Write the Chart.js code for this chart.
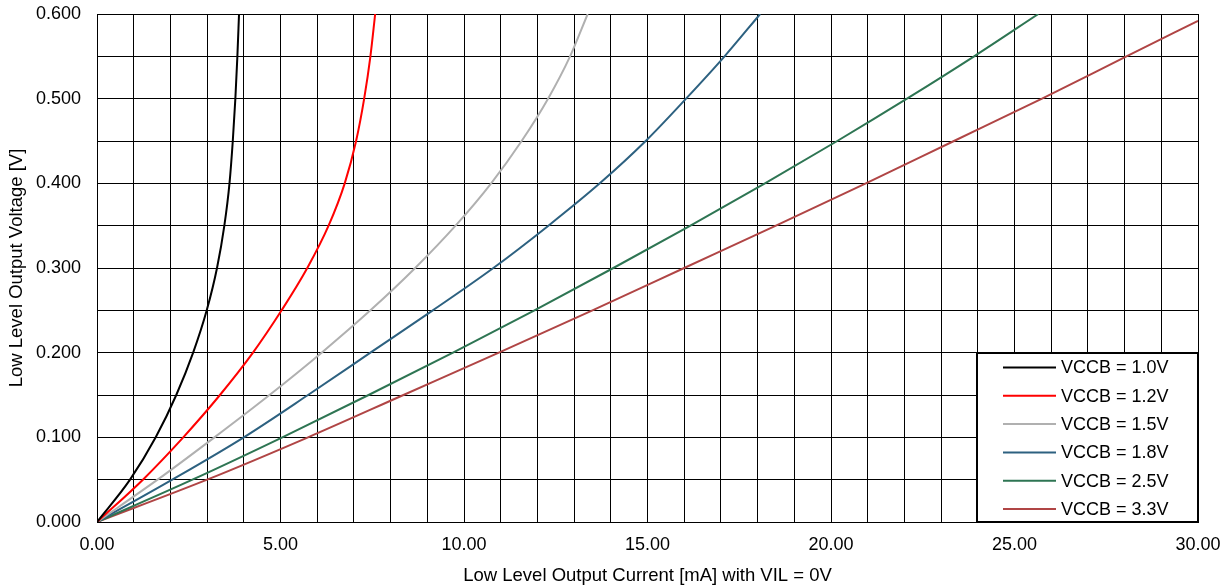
<!DOCTYPE html>
<html>
<head>
<meta charset="utf-8">
<script src="https://cdn.jsdelivr.net/npm/chart.js@4.4.1/dist/chart.umd.min.js"></script>
<style>
html, body { margin: 0; padding: 0; background: #fff; }
#wrap { width: 1228px; height: 588px; }
</style>
</head>
<body>
<div id="wrap"><canvas id="volChart" width="1228" height="588"></canvas></div>
<script>
// curvas: tension [V] y corriente [mA] en cada paso
const labels = ['VCCB = 1.0V', 'VCCB = 1.2V', 'VCCB = 1.5V', 'VCCB = 1.8V', 'VCCB = 2.5V', 'VCCB = 3.3V'];
const colors = ['#000000', '#ff0000', '#b0b0b0', '#2d6180', '#2e7553', '#b04545'];

const tension = [0, 0.05, 0.10, 0.15, 0.20, 0.25, 0.30, 0.35, 0.40, 0.45, 0.50, 0.55, 0.60];
const tension33 = [0, 0.05, 0.10, 0.15, 0.20, 0.25, 0.30, 0.35, 0.40, 0.45, 0.50, 0.55, 0.592];

const i10 = [0, 0.90, 1.60, 2.16, 2.62, 2.99, 3.27, 3.47, 3.61, 3.70, 3.77, 3.825, 3.87];
const i12 = [0, 1.25, 2.35, 3.35, 4.25, 5.03, 5.73, 6.31, 6.75, 7.06, 7.28, 7.45, 7.58];
const i15 = [0, 1.65, 3.20, 4.70, 6.12, 7.45, 8.67, 9.77, 10.74, 11.57, 12.29, 12.89, 13.37];
const i18 = [0, 2.05, 4.00, 5.75, 7.45, 9.15, 10.80, 12.30, 13.70, 14.95, 16.05, 17.10, 18.07];
const i25 = [0, 2.60, 5.05, 7.40, 9.70, 11.92, 14.07, 16.17, 18.20, 20.17, 22.07, 23.90, 25.65];
const i33 = [0, 3.00, 5.75, 8.35, 10.95, 13.50, 16.00, 18.50, 20.95, 23.35, 25.75, 28.05, 30.00];

const currents = [i10, i12, i15, i18, i25, i33];
const voltages = [tension, tension, tension, tension, tension, tension33];

const FONT = '"Liberation Sans", Arial, sans-serif';

function puntos(xs, ys) {
	let out = [];
	for (let i = 0; i < xs.length; i++) {
		out.push({ x: xs[i], y: ys[i] });
	}
	return out;
}

// leyenda dentro del area, esquina inferior derecha
const legendBox = {
	id: 'legendBox',
	afterDatasetsDraw(chart) {
		const ctx = chart.ctx;
		const a = chart.chartArea;
		const w = 221, h = 169;
		const x0 = a.right - w, y0 = a.bottom - h;
		ctx.save();
		ctx.fillStyle = '#fff';
		ctx.fillRect(x0, y0, w, h);
		ctx.lineWidth = 2;
		ctx.strokeStyle = '#000';
		ctx.strokeRect(x0, y0, w, h);
		ctx.font = '18px ' + FONT;
		ctx.textBaseline = 'middle';
		chart.data.datasets.forEach(function (ds, i) {
			const y = y0 + 14.5 + i * 28.3;
			ctx.strokeStyle = ds.borderColor;
			ctx.lineWidth = 2;
			ctx.beginPath();
			ctx.moveTo(x0 + 26, y);
			ctx.lineTo(x0 + 79, y);
			ctx.stroke();
			ctx.fillStyle = '#000';
			ctx.fillText(ds.label, x0 + 84, y + 1);
		});
		ctx.restore();
	}
};

let datasets = [];
for (let k = 0; k < labels.length; k++) {
	datasets.push({
		label: labels[k],
		data: puntos(currents[k], voltages[k]),
		borderColor: colors[k],
		backgroundColor: colors[k],
		borderWidth: 2,
		pointRadius: 0,
		showLine: true,
		cubicInterpolationMode: 'monotone'
	});
}

new Chart(document.getElementById('volChart'), {
	type: 'scatter',
	data: { datasets: datasets },
	plugins: [legendBox],
	options: {
		responsive: false,
		animation: false,
		devicePixelRatio: 1,
		layout: { padding: { left: 0, right: 30, top: 14, bottom: 0 } },
		plugins: {
			legend: { display: false },
			tooltip: { enabled: false }
		},
		scales: {
			x: {
				type: 'linear',
				min: 0,
				max: 30,
				afterFit: function (scale) {
					scale.height = 66;
					scale.paddingLeft = 0;
					scale.paddingRight = 0;
				},
				ticks: {
					stepSize: 1,
					autoSkip: false,
					maxRotation: 0,
					padding: 12,
					color: '#000',
					font: { family: FONT, size: 18 },
					callback: function (v) { return (Math.round(v) % 5 === 0) ? v.toFixed(2) : ''; }
				},
				grid: { color: '#000', lineWidth: 1, drawTicks: false },
				border: { color: '#000', width: 1 },
				title: {
					display: true,
					text: 'Low Level Output Current [mA] with VIL = 0V',
					color: '#000',
					font: { family: FONT, size: 18.5 },
					padding: { top: 0, bottom: 1 }
				}
			},
			y: {
				min: 0,
				max: 0.6,
				afterFit: function (scale) {
					scale.width = 97;
					scale.paddingTop = 0;
					scale.paddingBottom = 0;
				},
				ticks: {
					stepSize: 0.05,
					autoSkip: false,
					padding: 16,
					color: '#000',
					font: { family: FONT, size: 18 },
					callback: function (v) { return (Math.round(v * 1000) % 100 === 0) ? v.toFixed(3) : ''; }
				},
				grid: { color: '#000', lineWidth: 1, drawTicks: false },
				border: { color: '#000', width: 1 },
				title: {
					display: true,
					text: 'Low Level Output Voltage [V]',
					color: '#000',
					font: { family: FONT, size: 18.5 },
					padding: { top: 6, bottom: 0 }
				}
			}
		}
	}
});
</script>
</body>
</html>
